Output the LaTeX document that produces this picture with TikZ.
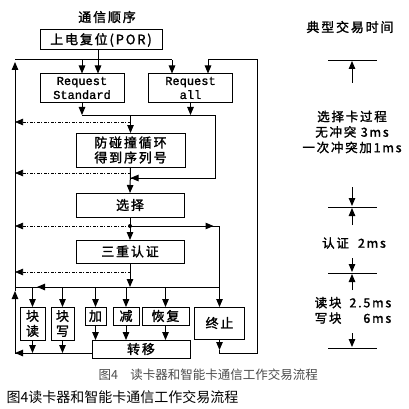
\documentclass[tikz,border=0pt]{standalone}
\usepackage{fontspec}
\setmainfont{Noto Sans CJK SC}
\newfontfamily\heavy[FakeBold=1.6, LetterSpace=14]{Noto Sans CJK SC}
\newfontfamily\monofont[FakeBold=1.2]{Liberation Mono}
\usetikzlibrary{arrows.meta}

\begin{document}
\begin{tikzpicture}[x=1pt, y=-1pt, >={Triangle[length=8pt,width=6.5pt]},
  font=\heavy\fontsize{13}{15}\selectfont,
  box/.style={draw, line width=1pt, inner sep=0pt, outer sep=0pt, align=center},
  req/.style={box, minimum width=84, minimum height=29, font=\monofont\fontsize{12}{14}\selectfont},
  wide/.style={box, minimum width=108},
  op/.style={box, minimum height=18},
  tall/.style={box, minimum height=33},
  line/.style={->, line width=1pt},
  wire/.style={line width=1pt},
  back/.style={->, line width=0.6pt, dash pattern=on 3pt off 1.5pt on 1pt off 1.5pt},
  tick/.style={line width=0.9pt},
  note/.style={align=center, font=\heavy\fontsize{12.5}{15.5}\selectfont}]
\useasboundingbox (0,0) rectangle (409,409);

% left column: the flow
\node (head) at (107,17) {通信顺序};
\node[box, minimum width=122, minimum height=20] (por) at (101,40) {上电复位(POR)};
\node[req] (reqstd) at (82,88) {Request\\Standard};
\node[req] (reqall) at (190.5,88) {Request\\all};
\node[wide, minimum width=109, minimum height=34] (acl) at (130.5,150) {防碰撞循环\\得到序列号};
\node[wide, minimum height=24] (sel) at (130,205) {选择};
\node[wide, minimum height=23] (auth) at (130,251.5) {三重认证};
\node[tall, minimum width=25] (rd) at (32.5,323.5) {块\\读};
\node[tall, minimum width=23] (wr) at (62.5,323.5) {块\\写};
\node[op, minimum width=21] (inc) at (95.5,316) {加};
\node[op, minimum width=26] (dec) at (126,316) {减};
\node[op, minimum width=47] (rst) at (165.5,316) {恢复};
\node[box, minimum width=50, minimum height=32] (halt) at (219.5,323) {终止};
\node[op, minimum width=98] (xfer) at (141,349) {转移};

% bus lines
\coordinate (tl) at (15,60);
\coordinate (lb) at (15,353);
\coordinate (rt) at (257,60);
\coordinate (rb) at (257,353);
\coordinate (mb) at (82,115);
\coordinate (mr) at (215,115);
\coordinate (ob) at (130,287);
\coordinate (sj) at (130,226);

% return path on the left
\draw[wire] (xfer.west |- lb) -- (lb);
\draw[line] ([xshift=9]lb) -- (lb);
\draw[line] (lb) -- ([yshift=-4]lb |- ob);
\draw[line] ([yshift=-4]lb |- ob) -- ([yshift=-2]tl);
\draw[wire] (tl) -- ([xshift=-18.5]reqall.north |- tl);
\draw[line] ([xshift=-18.5]reqall.north |- tl) -- ([xshift=-18.5]reqall.north);
\draw[line] (reqstd.north |- tl) -- (reqstd.north);
\draw[line] ([xshift=-3]por.south) -- ([xshift=-3]por.south |- reqstd.north);

% loop from halt back to request all
\draw[line] (halt.south) -- ([yshift=3]halt.south |- rb);
\draw[wire] ([yshift=3]halt.south |- rb) -- (halt.south |- rb) -- (rb) -- (rt)
  -- ([xshift=17.5]reqall.north |- rt);
\draw[line] ([xshift=17.5]reqall.north |- rt) -- ([xshift=17.5]reqall.north);

% requests into anticollision
\draw[line] (reqstd.south) -- (mb);
\draw[line] (reqall.south) -- (reqall.south |- mb);
\draw[wire] (mb) -- (mr) -- (mr |- 0,178) -- (acl.south |- 0,178);
\draw[line] ([xshift=12]acl.south |- 0,178) -- (acl.south |- 0,178);
\draw[line] (acl.north |- mb) -- (acl.north);
\draw[line] (acl.south) -- (sel.north);
\draw[line] (sel.south) -- (auth.north);
\fill (sj) circle (2);

% branch to halt
\draw[wire] (sj) -- (halt.north |- sj);
\draw[line] (sj) -- ([xshift=-6]halt.north |- sj);
\draw[line] (halt.north |- sj) -- (halt.north);

% after authentication
\draw[line] (auth.south) -- (ob);
\draw[wire] (lb |- ob) -- (halt.north |- ob);
\draw[line] ([xshift=30]lb |- ob) -- ([xshift=22]lb |- ob);
\foreach \n in {rd,wr,inc,dec,rst}
  \draw[line] (\n.north |- ob) -- (\n.north);
\foreach \n in {inc,dec,rst}
  \draw[line] (\n.south) -- (\n.south |- xfer.north);
\draw[line] (rd.south) -- (rd.south |- lb);
\draw[line] (wr.south) -- (wr.south |- lb);

% dash-dot returns
\foreach \y in {122,173,226,272}
  \draw[back] (acl.north |- 0,\y) -- (lb |- 0,\y);

% right column: times
\node (time) at (350,27) {典型交易时间};
\coordinate (k1) at (352,60);
\coordinate (k2) at (352,207);
\coordinate (k3) at (352,273);
\coordinate (k4) at (352,348);
\foreach \k in {k1,k2,k3,k4}
  \draw[tick] ([xshift=-24]\k) -- ([xshift=25]\k);
\node[note] (t1) at (352,132) {选择卡过程\\无冲突\ 3ms\\一次冲突加1ms};
\node[note] (t2) at (354,243) {认证\ \ 2ms};
\node[note] (t3) at (353,312) {\begin{tabular}{@{}l@{\hspace{8pt}}r@{}}读块 & 2.5ms\\ 写块 & 6ms\end{tabular}};
\draw[line] ([yshift=-23]k1) -- ([yshift=-1]k1);
\draw[line] ([yshift=20]k2) -- ([yshift=1]k2);
\draw[line] ([yshift=-18]k2) -- ([yshift=-1]k2);
\draw[line] ([yshift=15]k3) -- ([yshift=1]k3);
\draw[line] ([yshift=-17]k3) -- ([yshift=-1]k3);
\draw[line] ([yshift=15]k4) -- ([yshift=1]k4);

% captions
\node[anchor=west, text=black!70, font=\fontsize{12.5}{14}\selectfont] (cap) at (95,375) {图4\quad 读卡器和智能卡通信工作交易流程};
\node[anchor=west, font=\fontsize{14}{16}\selectfont] (title) at (3,397) {图4读卡器和智能卡通信工作交易流程};
\end{tikzpicture}
\end{document}
